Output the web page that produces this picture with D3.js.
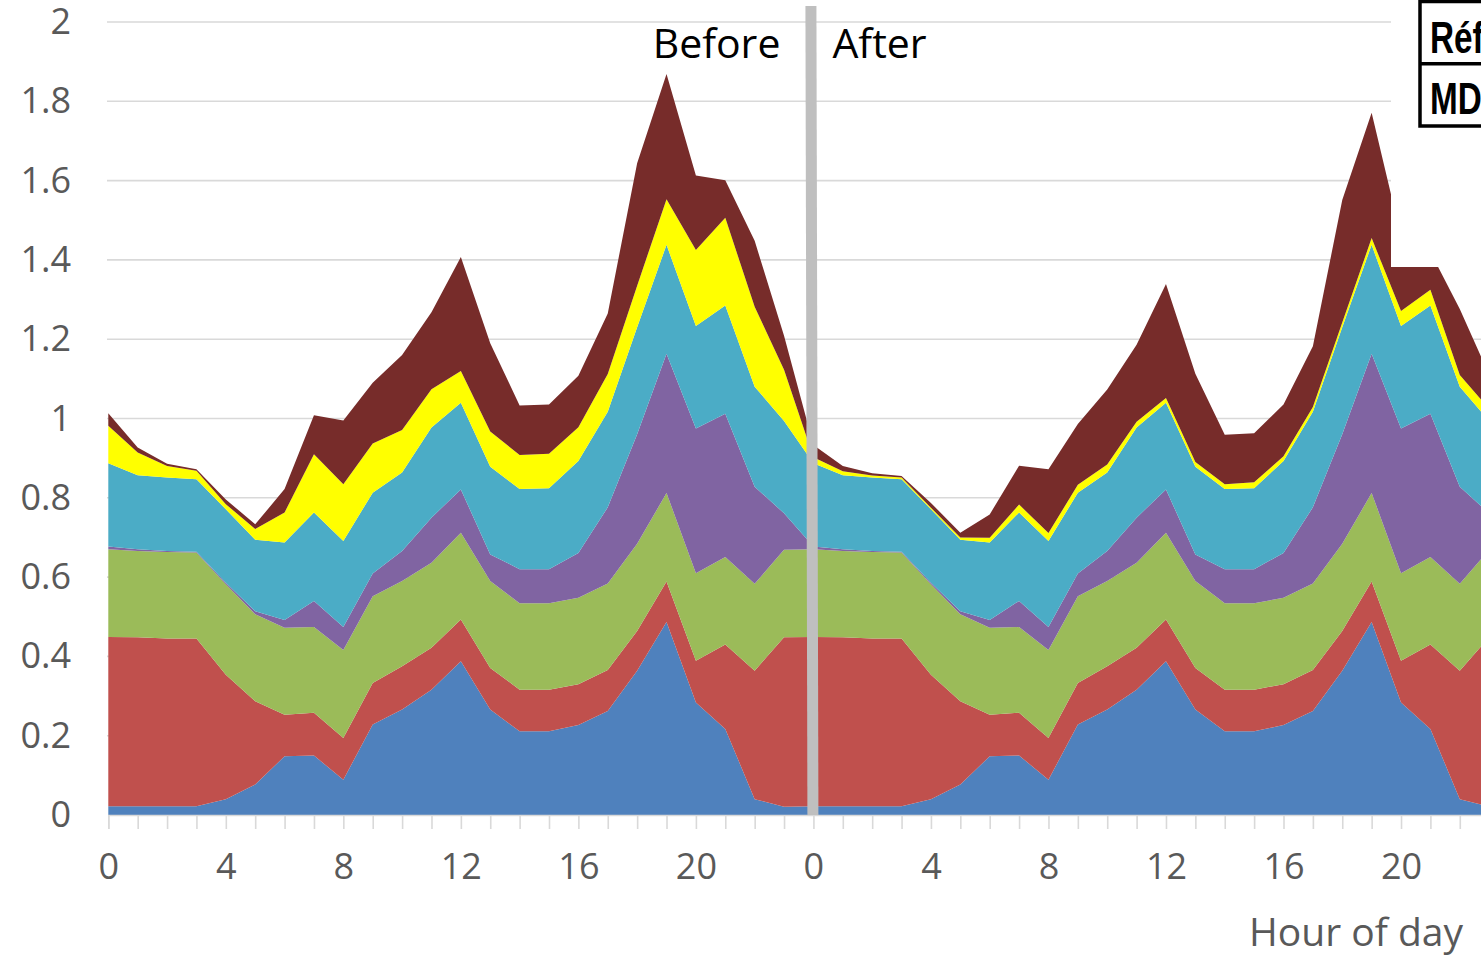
<!DOCTYPE html>
<html>
<head>
<meta charset="utf-8">
<script src="https://cdn.jsdelivr.net/npm/d3@7"></script>
<style>
  html, body { margin: 0; padding: 0; background: #fff; }
  svg { display: block; }
  text { font-family: "Open Sans", "Noto Sans", sans-serif; }
</style>
</head>
<body>
<svg id="chart" width="1481" height="957"></svg>
<script>
// hour of day, one day; the chart shows "Before" then "After" back to back
var hours = d3.range(0, 24);

// layer thicknesses per hour (stacked bottom -> top)
var blue   = [0.022, 0.022, 0.022, 0.022, 0.040, 0.077, 0.148, 0.150, 0.089, 0.228, 0.266, 0.316,
              0.388, 0.266, 0.211, 0.211, 0.227, 0.262, 0.364, 0.487, 0.284, 0.217, 0.040, 0.021];
var red    = [0.427, 0.426, 0.423, 0.423, 0.314, 0.210, 0.105, 0.108, 0.105, 0.105, 0.109, 0.106,
              0.105, 0.105, 0.105, 0.105, 0.103, 0.104, 0.100, 0.102, 0.105, 0.213, 0.324, 0.427];
var green  = [0.221, 0.218, 0.218, 0.217, 0.228, 0.219, 0.219, 0.216, 0.222, 0.219, 0.215, 0.214,
              0.219, 0.219, 0.218, 0.218, 0.218, 0.218, 0.220, 0.223, 0.221, 0.221, 0.219, 0.221];
var purple = [0.007, 0.004, 0.003, 0.002, 0.004, 0.008, 0.020, 0.066, 0.058, 0.057, 0.076, 0.114,
              0.109, 0.067, 0.086, 0.086, 0.113, 0.192, 0.276, 0.351, 0.365, 0.361, 0.245, 0.092];
var teal   = [0.210, 0.187, 0.185, 0.183, 0.185, 0.180, 0.195, 0.223, 0.217, 0.204, 0.198, 0.227,
              0.219, 0.221, 0.202, 0.204, 0.232, 0.241, 0.270, 0.275, 0.258, 0.273, 0.252, 0.233];
var yellowBefore = [0.095, 0.057, 0.029, 0.021, 0.013, 0.027, 0.076, 0.147, 0.143, 0.124, 0.107, 0.097,
                    0.080, 0.089, 0.086, 0.087, 0.085, 0.095, 0.105, 0.115, 0.192, 0.221, 0.202, 0.129];
var yellowAfter  = [0.015, 0.010, 0.005, 0.004, 0.004, 0.006, 0.012, 0.020, 0.020, 0.020, 0.020, 0.015,
                    0.012, 0.012, 0.012, 0.015, 0.012, 0.012, 0.012, 0.017, 0.038, 0.040, 0.030, 0.030];
var maroon = [0.031, 0.013, 0.006, 0.004, 0.012, 0.012, 0.059, 0.098, 0.161, 0.153, 0.189, 0.194,
              0.287, 0.223, 0.125, 0.124, 0.130, 0.153, 0.309, 0.316, 0.188, 0.095, 0.166, 0.086];

var keys   = ["blue", "red", "green", "purple", "teal", "yellow", "maroon"];
var colors = ["#4F81BD", "#C0504D", "#9BBB59", "#8064A2", "#4BACC6", "#FFFF00", "#772C2A"];
var yTicks = [0, 0.2, 0.4, 0.6, 0.8, 1, 1.2, 1.4, 1.6, 1.8, 2];
var dayLabels = ["Before", "After"];

var rows = [];
[yellowBefore, yellowAfter].forEach(function(yel, day) {
  hours.forEach(function(h, i) {
    rows.push({t: day * 24 + h, blue: blue[i], red: red[i], green: green[i], purple: purple[i],
               teal: teal[i], yellow: yel[i], maroon: maroon[i]});
  });
});

var svg = d3.select("#chart");

var x = d3.scaleLinear().domain([0, 48]).range([108.3, 108.3 + 48 * 29.38]);
var y = d3.scaleLinear().domain([0, 2]).range([815, 22]);

// gridlines
svg.append("g")
  .selectAll("line")
  .data(yTicks.filter(function(d) { return d > 0; }))
  .join("line")
    .attr("x1", 107).attr("x2", 1481)
    .attr("y1", function(d) { return y(d); })
    .attr("y2", function(d) { return y(d); })
    .attr("stroke", "#d9d9d9")
    .attr("stroke-width", 1.6);

// y axis labels
var yAxis = svg.append("g")
  .attr("transform", "translate(108,0)")
  .call(d3.axisLeft(y).tickValues(yTicks).tickSize(0).tickPadding(37)
    .tickFormat(function(d) { return String(+d.toFixed(1)); }));
yAxis.select(".domain").remove();
yAxis.selectAll("text")
  .attr("fill", "#595959")
  .style("font-size", "36px");

// stacked areas
var series = d3.stack().keys(keys)(rows);
var area = d3.area()
  .x(function(d) { return x(d.data.t); })
  .y0(function(d) { return y(d[0]); })
  .y1(function(d) { return y(d[1]); });

svg.append("g")
  .selectAll("path")
  .data(series)
  .join("path")
    .attr("fill", function(d, i) { return colors[i]; })
    .attr("d", area);

// x axis
var xAxis = svg.append("g")
  .attr("transform", "translate(0," + y(0) + ")")
  .call(d3.axisBottom(x).tickValues(d3.range(0, 48)).tickSize(14).tickPadding(24)
    .tickFormat(function(h) { return h % 4 === 0 ? String(h % 24) : ""; }));
xAxis.select(".domain").attr("stroke", "#d9d9d9").attr("stroke-width", 1.6);
xAxis.selectAll(".tick line").attr("stroke", "#d9d9d9").attr("stroke-width", 1.6);
xAxis.selectAll("text")
  .attr("fill", "#595959")
  .style("font-size", "36px");

svg.append("text")
  .attr("x", 1249).attr("y", 946)
  .attr("fill", "#595959")
  .style("font-size", "39px")
  .text("Hour of day");

// divider between the two days
svg.append("line")
  .attr("x1", x(24) - 2.5).attr("x2", x(24) - 0.5)
  .attr("y1", 6).attr("y2", y(0))
  .attr("stroke", "#bfbfbf")
  .attr("stroke-width", 11);

svg.selectAll("text.day")
  .data(dayLabels)
  .join("text")
    .attr("class", "day")
    .attr("x", function(d, i) { return i === 0 ? x(24) - 33 : x(24) + 19; })
    .attr("y", 58)
    .attr("text-anchor", function(d, i) { return i === 0 ? "end" : "start"; })
    .attr("fill", "#000")
    .style("font-size", "41px")
    .text(function(d) { return d; });

// legend box, cut off at the right edge
svg.append("rect")
  .attr("x", 1391).attr("y", 0)
  .attr("width", 90).attr("height", 267)
  .attr("fill", "#fff");

var tbl = svg.append("g");
tbl.append("path")
  .attr("d", "M1420,1.5H1481M1420,63.7H1481M1420,126H1481M1420,0V127.7")
  .attr("fill", "none")
  .attr("stroke", "#000")
  .attr("stroke-width", 3.5);
tbl.selectAll("text")
  .data(["Référence", "MDL"])
  .join("text")
    .attr("transform", function(d, i) { return "translate(1430," + (53 + i * 60.5) + ") scale(0.74,1)"; })
    .style("font-family", "'Liberation Sans', Arial, sans-serif")
    .style("font-weight", "bold")
    .style("font-size", "45px")
    .attr("fill", "#000")
    .text(function(d) { return d; });
</script>
</body>
</html>
